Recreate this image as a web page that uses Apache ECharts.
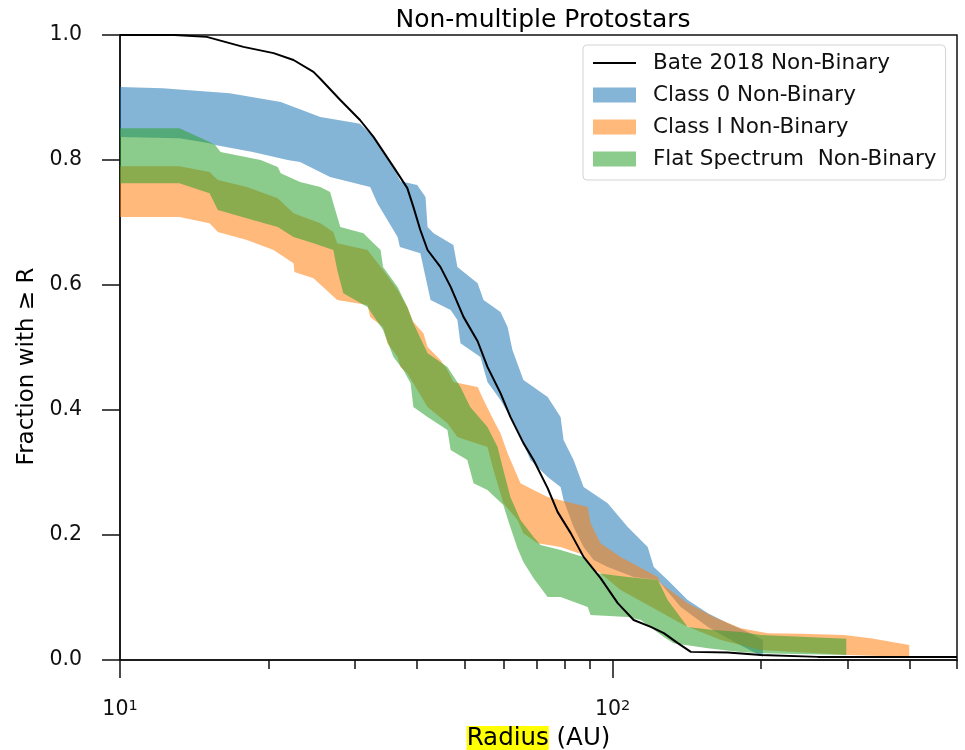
<!DOCTYPE html>
<html>
<head>
<meta charset="utf-8">
<script src="https://cdn.jsdelivr.net/npm/echarts@6/dist/echarts.min.js"></script>
<style>
  html, body { margin: 0; padding: 0; background: #fff; }
  #chart { width: 965px; height: 750px; }
</style>
</head>
<body>
<div id="chart"></div>
<script>
// Cumulative fraction of protostars with disk radius >= R (R in AU)

// Bate 2018 simulation, non-binary
const bateRadius = [10, 12.9, 15.0, 17.8, 20.5, 22.5, 24.7, 25.5, 28.0, 30.7, 32.7, 35.9,
  38.3, 39.4, 40.7, 42.1, 44.7, 46.9, 49.8, 53.2, 55.7, 59.2,
  62.0, 65.9, 69.1, 73.8, 77.3, 82.2, 87.3, 94.5, 102.4, 110.3,
  119.5, 127.0, 135.6, 144.1, 171.3, 200, 261, 500];
const bateFraction = [1.0, 1.0, 0.997, 0.981, 0.971, 0.960, 0.941, 0.930, 0.896, 0.864, 0.837, 0.789,
  0.755, 0.725, 0.688, 0.656, 0.629, 0.597, 0.549, 0.510, 0.469, 0.427,
  0.389, 0.347, 0.320, 0.275, 0.237, 0.203, 0.165, 0.131, 0.091, 0.064,
  0.053, 0.043, 0.027, 0.013, 0.012, 0.008, 0.005, 0.005];

// Class 0 band
const class0UpperR = [10, 12.2, 16.7, 21.2, 25.5, 28.7, 30.7, 32.7, 35.4, 37.1,
  40.1, 41.7, 42.1, 43.3, 47.5, 48.4, 53.2, 54.7, 59.2, 61.2,
  62.6, 65.9, 73.8, 78.4, 79.5, 83.3, 87.3, 97.7, 107.3, 117.8,
  121.2, 129.3, 142.0, 156.1, 171.3, 188.2, 201.8];
const class0Upper = [0.917, 0.915, 0.907, 0.893, 0.869, 0.862, 0.858, 0.837, 0.797, 0.766,
  0.760, 0.741, 0.693, 0.683, 0.664, 0.629, 0.603, 0.576, 0.557, 0.533,
  0.496, 0.448, 0.421, 0.389, 0.352, 0.320, 0.277, 0.251, 0.213, 0.181,
  0.149, 0.128, 0.096, 0.075, 0.059, 0.045, 0.032];
const class0LowerR = [10, 13.2, 15.2, 15.6, 18.6, 21.9, 23.2, 26.7, 32.2, 33.3,
  36.6, 37.0, 40.7, 42.7, 46.9, 48.4, 49.1, 53.9, 55.7, 59.2,
  64.1, 68.1, 73.8, 78.4, 79.5, 83.3, 87.3, 91.5, 97.7, 110.3,
  123.5, 137.5, 156.1, 173.8, 201.8];
const class0Lower = [0.837, 0.835, 0.827, 0.824, 0.813, 0.800, 0.797, 0.773, 0.757, 0.731,
  0.677, 0.661, 0.651, 0.576, 0.560, 0.544, 0.507, 0.485, 0.445, 0.416,
  0.368, 0.320, 0.293, 0.277, 0.256, 0.213, 0.181, 0.160, 0.149, 0.133,
  0.128, 0.085, 0.053, 0.032, 0.005];

// Class I band
const class1UpperR = [10, 13.2, 15.2, 15.8, 18.1, 20.9, 22.5, 25.5, 27.1, 27.6,
  31.8, 34.2, 36.6, 38.3, 39.4, 41.3, 42.1, 44.7, 46.2, 47.5,
  53.2, 54.7, 57.3, 59.2, 61.2, 62.9, 65.0, 69.1, 73.8, 81.0,
  89.0, 90.2, 94.5, 103.8, 123.5, 125.2, 142.0, 160.5, 182.0, 206.5,
  241, 295, 334, 400];
const class1Upper = [0.790, 0.790, 0.781, 0.768, 0.757, 0.739, 0.715, 0.699, 0.685, 0.667,
  0.656, 0.624, 0.592, 0.565, 0.541, 0.523, 0.501, 0.480, 0.464, 0.445,
  0.437, 0.416, 0.384, 0.363, 0.331, 0.309, 0.283, 0.272, 0.261, 0.253,
  0.245, 0.219, 0.187, 0.165, 0.133, 0.123, 0.091, 0.069, 0.051, 0.043,
  0.042, 0.040, 0.035, 0.024];
const class1LowerR = [10, 13.2, 15.2, 15.8, 18.1, 20.5, 22.5, 22.6, 24.7, 27.6,
  31.8, 32.2, 34.2, 34.9, 36.6, 37.1, 38.3, 42.1, 46.2, 48.4,
  55.7, 57.3, 60.0, 64.1, 65.9, 70.4, 78.4, 87.3, 91.5, 94.5,
  103.8, 121.2, 139.4, 165.8, 200, 302, 400];
const class1Lower = [0.709, 0.709, 0.699, 0.685, 0.672, 0.656, 0.635, 0.621, 0.611, 0.576,
  0.568, 0.549, 0.533, 0.507, 0.485, 0.469, 0.459, 0.405, 0.379, 0.357,
  0.341, 0.304, 0.251, 0.224, 0.203, 0.187, 0.181, 0.168, 0.144, 0.139,
  0.112, 0.083, 0.056, 0.032, 0.016, 0.008, 0.005];

// Flat spectrum band
const flatUpperR = [10, 13.2, 15.2, 15.6, 16.0, 19.3, 20.9, 21.2, 23.2, 25.5,
  26.7, 27.1, 28.0, 31.2, 32.2, 33.8, 34.2, 36.6, 38.3, 39.4,
  42.1, 46.2, 49.1, 51.4, 55.7, 58.4, 60.0, 62.0, 65.0, 69.1,
  71.4, 78.4, 87.3, 93.2, 107.3, 123.5, 129.3, 142.0, 160.5, 182.0,
  200, 298];
const flatUpper = [0.851, 0.851, 0.829, 0.824, 0.813, 0.800, 0.789, 0.779, 0.765, 0.757,
  0.749, 0.731, 0.693, 0.683, 0.672, 0.656, 0.629, 0.597, 0.565, 0.539,
  0.491, 0.469, 0.437, 0.405, 0.373, 0.341, 0.304, 0.261, 0.224, 0.197,
  0.184, 0.176, 0.165, 0.139, 0.133, 0.128, 0.096, 0.053, 0.048, 0.045,
  0.040, 0.034];
const flatLowerR = [10, 13.2, 15.2, 15.8, 18.6, 20.9, 22.5, 24.7, 27.1, 27.6,
  28.4, 31.8, 34.2, 35.9, 37.6, 38.9, 39.4, 42.1, 46.2, 46.9,
  50.7, 52.2, 55.7, 60.0, 61.5, 64.1, 65.9, 69.1, 73.8, 78.4,
  89.0, 90.2, 107.3, 114.0, 127.0, 133.0, 156.1, 182.0, 200, 298];
const flatLower = [0.763, 0.763, 0.747, 0.720, 0.704, 0.693, 0.677, 0.667, 0.656, 0.624,
  0.587, 0.565, 0.528, 0.485, 0.464, 0.443, 0.405, 0.389, 0.368, 0.336,
  0.320, 0.283, 0.272, 0.248, 0.221, 0.179, 0.157, 0.131, 0.101, 0.101,
  0.085, 0.072, 0.069, 0.064, 0.037, 0.027, 0.019, 0.013, 0.011, 0.008];

// Axis ticks
const xMajorTicks = [10, 100];
const xMinorTicks = [20, 30, 40, 50, 60, 70, 80, 90, 200, 300, 400, 500];
const yTicks = [0, 0.2, 0.4, 0.6, 0.8, 1.0];

const FONT = 'DejaVu Sans';
const INK = '#111';

// Closed outline: upper edge left to right, then lower edge right to left
function bandOutline(upR, upF, loR, loF) {
  const pts = upR.map((r, i) => [r, upF[i]]);
  for (let i = loR.length - 1; i >= 0; i--) pts.push([loR[i], loF[i]]);
  return pts;
}

function bandSeries(name, color, outline) {
  return {
    name: name,
    type: 'custom',
    coordinateSystem: 'cartesian2d',
    xAxisIndex: 0,
    yAxisIndex: 0,
    data: outline,
    encode: { x: 0, y: 1 },
    itemStyle: { color: color },
    silent: true,
    z: 2,
    renderItem: function (params, api) {
      if (params.dataIndex !== 0) return null;
      return {
        type: 'polygon',
        shape: { points: outline.map(p => api.coord(p)) },
        style: { fill: color }
      };
    }
  };
}

const chart = echarts.init(document.getElementById('chart'), null, { renderer: 'canvas' });

const tickStyle = { color: INK, width: 1.5 };

chart.setOption({
  animation: false,
  textStyle: { fontFamily: FONT },
  title: {
    text: 'Non-multiple Protostars',
    left: 538,
    top: 3,
    textAlign: 'center',
    textStyle: { fontFamily: FONT, fontSize: 25, fontWeight: 'normal', color: '#000' }
  },
  grid: {
    left: 120, right: 8, top: 35, bottom: 90,
    outerBoundsMode: 'none',
    containLabel: false,
    show: true, borderColor: INK, borderWidth: 1.5, backgroundColor: 'transparent'
  },
  legend: {
    orient: 'vertical',
    left: 583,
    top: 45,
    padding: [7, 9, 10, 9],
    itemWidth: 43,
    itemHeight: 15,
    itemGap: 10,
    backgroundColor: 'rgba(255,255,255,0.8)',
    borderColor: '#d3d3d3',
    borderWidth: 1,
    borderRadius: 4,
    textStyle: { fontFamily: FONT, fontSize: 21.5, color: '#111', padding: [0, 0, 0, 12] },
    data: [
      { name: 'Bate 2018 Non-Binary', itemStyle: { opacity: 0 }, lineStyle: { color: '#000', width: 2 } },
      { name: 'Class 0 Non-Binary', icon: 'rect' },
      { name: 'Class I Non-Binary', icon: 'rect' },
      { name: 'Flat Spectrum  Non-Binary', icon: 'rect' }
    ]
  },
  xAxis: [
    {
      type: 'log',
      logBase: 10,
      min: 10,
      max: 500,
      position: 'bottom',
      name: '{hl|Radius} (AU)',
      nameLocation: 'middle',
      nameGap: 66,
      nameTextStyle: {
        fontFamily: FONT, fontSize: 24.5, color: '#000',
        rich: { hl: { fontFamily: FONT, fontSize: 24.5, color: '#000', backgroundColor: '#ffff00', lineHeight: 23 } }
      },
      axisLine: { show: true, onZero: false, lineStyle: tickStyle },
      axisTick: { show: true, customValues: xMajorTicks, length: 18, lineStyle: tickStyle },
      axisLabel: {
        customValues: xMajorTicks,
        margin: 39,
        color: INK,
        formatter: function (v) {
          return '{b|10}{s|' + Math.round(Math.log10(v)) + '}';
        },
        rich: {
          b: { fontFamily: FONT, fontSize: 20.5, color: INK, lineHeight: 22 },
          s: { fontFamily: FONT, fontSize: 14.5, color: INK, lineHeight: 12, verticalAlign: 'top' }
        }
      },
      splitLine: { show: false }
    },
    {
      type: 'log',
      logBase: 10,
      min: 10,
      max: 500,
      position: 'bottom',
      axisLine: { show: false, onZero: false },
      axisTick: { show: true, customValues: xMinorTicks, length: 9, lineStyle: tickStyle },
      axisLabel: { show: false },
      splitLine: { show: false }
    }
  ],
  yAxis: {
    type: 'value',
    min: 0,
    max: 1,
    interval: 0.2,
    name: 'Fraction with \u2265 R',
    nameLocation: 'middle',
    nameGap: 80,
    nameTextStyle: { fontFamily: FONT, fontSize: 23, color: '#000', padding: [0, 38, 0, 0] },
    axisLine: { show: true, onZero: false, lineStyle: tickStyle },
    axisTick: { show: true, length: 18, lineStyle: tickStyle },
    axisLabel: {
      customValues: yTicks,
      margin: 38,
      fontFamily: FONT,
      fontSize: 20.5,
      color: INK,
      formatter: v => v.toFixed(1)
    },
    splitLine: { show: false }
  },
  series: [
    bandSeries('Class 0 Non-Binary', 'rgba(31,119,180,0.55)',
      bandOutline(class0UpperR, class0Upper, class0LowerR, class0Lower)),
    bandSeries('Class I Non-Binary', 'rgba(255,127,14,0.55)',
      bandOutline(class1UpperR, class1Upper, class1LowerR, class1Lower)),
    bandSeries('Flat Spectrum  Non-Binary', 'rgba(44,160,44,0.55)',
      bandOutline(flatUpperR, flatUpper, flatLowerR, flatLower)),
    {
      name: 'Bate 2018 Non-Binary',
      type: 'line',
      xAxisIndex: 0,
      yAxisIndex: 0,
      data: bateRadius.map((r, i) => [r, bateFraction[i]]),
      symbol: 'none',
      showSymbol: false,
      lineStyle: { color: '#000', width: 2 },
      itemStyle: { color: '#000' },
      z: 3,
      silent: true
    }
  ]
});
</script>
</body>
</html>
